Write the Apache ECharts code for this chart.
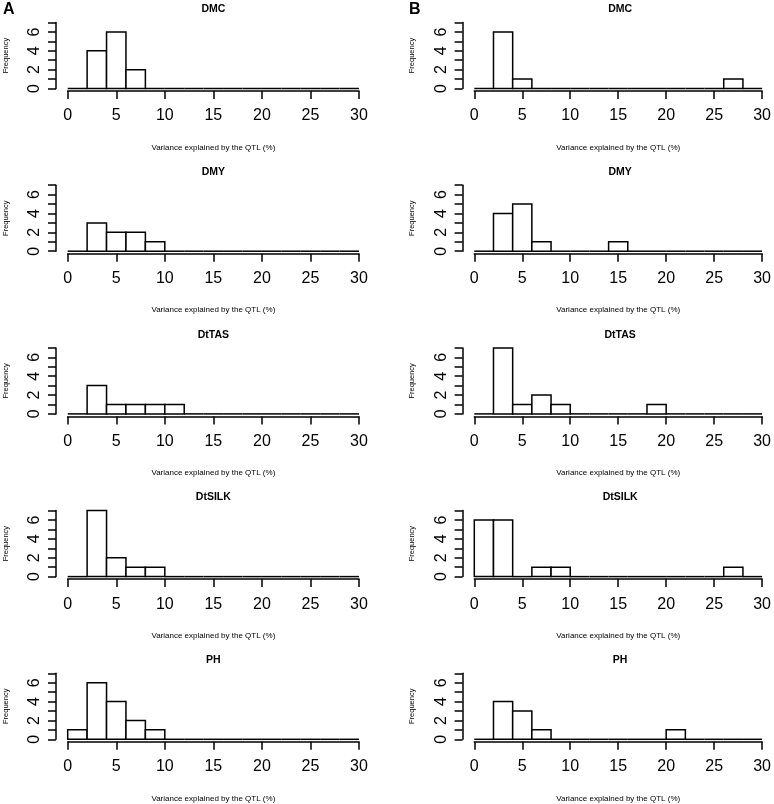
<!DOCTYPE html>
<html>
<head>
<meta charset="utf-8">
<script src="https://cdn.jsdelivr.net/npm/echarts@6/dist/echarts.min.js"></script>
<style>
html,body{margin:0;padding:0;background:#fff;}
#chart{width:774px;height:804px;}
</style>
</head>
<body>
<div id="chart"></div>
<script>
// Histogram bin breaks (width 2, from 0 to 30)
var breaks = [0,2,4,6,8,10,12,14,16,18,20,22,24,26,28,30];
var traits = ['DMC','DMY','DtTAS','DtSILK','PH'];
var xTicks = [0,5,10,15,20,25,30];
var yTicks = [0,1,2,3,4,5,6,7];
var yLabels = ['0','','2','','4','','6',''];
var xTitle = 'Variance explained by the QTL (%)';
var yTitle = 'Frequency';
var panelLetters = ['A','B'];

// Counts per bin, panel A
var A_DMC    = [0,4,6,2,0,0,0,0,0,0,0,0,0,0,0];
var A_DMY    = [0,3,2,2,1,0,0,0,0,0,0,0,0,0,0];
var A_DtTAS  = [0,3,1,1,1,1,0,0,0,0,0,0,0,0,0];
var A_DtSILK = [0,7,2,1,1,0,0,0,0,0,0,0,0,0,0];
var A_PH     = [1,6,4,2,1,0,0,0,0,0,0,0,0,0,0];
// Counts per bin, panel B
var B_DMC    = [0,6,1,0,0,0,0,0,0,0,0,0,0,1,0];
var B_DMY    = [0,4,5,1,0,0,0,1,0,0,0,0,0,0,0];
var B_DtTAS  = [0,7,1,2,1,0,0,0,0,1,0,0,0,0,0];
var B_DtSILK = [6,6,0,1,1,0,0,0,0,0,0,0,0,1,0];
var B_PH     = [0,4,3,1,0,0,0,0,0,0,1,0,0,0,0];

var panelsA = [A_DMC, A_DMY, A_DtTAS, A_DtSILK, A_PH];
var panelsB = [B_DMC, B_DMY, B_DtTAS, B_DtSILK, B_PH];

(function () {
var FONT = '"Liberation Sans", Arial, Helvetica, sans-serif';
var rowTop0 = 22.5, rowStep = 162.7, rowH = 66;
var cols = [{left: 67.7, width: 291.3}, {left: 474.3, width: 291.7}];

var grids = [], xAxes = [], yAxes = [], series = [], titles = [];

function renderHist(params, api) {
  var s = api.value(0), e = api.value(1), c = api.value(2);
  var p0 = api.coord([s, 0]);
  var p1 = api.coord([e, c]);
  if (c === 0) {
    return {type: 'line', shape: {x1: p0[0], y1: p0[1], x2: p1[0], y2: p0[1]}, style: {stroke: '#000', lineWidth: 1.5}};
  }
  return {type: 'rect', shape: {x: p0[0], y: p1[1], width: p1[0] - p0[0], height: p0[1] - p1[1]}, style: {fill: '#fff', stroke: '#000', lineWidth: 1.5}};
}
function xFmt(v) { return xTicks.indexOf(v) >= 0 ? String(v) : ''; }
function yFmt(v) { var i = yTicks.indexOf(v); return i >= 0 ? yLabels[i] : ''; }

var idx = 0;
for (var c = 0; c < 2; c++) {
  var panels = c === 0 ? panelsA : panelsB;
  for (var r = 0; r < 5; r++) {
    var gTop = rowTop0 + r * rowStep;
    grids.push({left: cols[c].left, width: cols[c].width, top: gTop, height: rowH});
    xAxes.push({
      type: 'value', gridIndex: idx, min: 0, max: 30, interval: 5, offset: 2.5,
      axisLine: {show: true, onZero: false, lineStyle: {color: '#000', width: 1.5}},
      axisTick: {show: true, length: 8, lineStyle: {color: '#000', width: 1.5}},
      axisLabel: {show: true, fontSize: 16, color: '#000', margin: 17, fontFamily: FONT, formatter: xFmt},
      splitLine: {show: false},
      name: xTitle, nameLocation: 'middle', nameGap: 52.5,
      nameTextStyle: {fontSize: 8, color: '#000', fontFamily: FONT}
    });
    yAxes.push({
      type: 'value', gridIndex: idx, min: 0, max: 7, interval: 1, offset: 11.7,
      axisLine: {show: true, onZero: false, lineStyle: {color: '#000', width: 1.5}},
      axisTick: {show: true, length: 8, lineStyle: {color: '#000', width: 1.5}},
      axisLabel: {show: true, fontSize: 16, color: '#000', margin: 13.5, rotate: 90, fontFamily: FONT, formatter: yFmt},
      splitLine: {show: false},
      name: yTitle, nameLocation: 'middle', nameGap: 46.5,
      nameTextStyle: {fontSize: 7.5, color: '#000', fontFamily: FONT}
    });
    var data = [];
    var counts = panels[r];
    for (var b = 0; b < counts.length; b++) {
      data.push([breaks[b], breaks[b + 1], counts[b]]);
    }
    series.push({
      type: 'custom', xAxisIndex: idx, yAxisIndex: idx, renderItem: renderHist,
      data: data, silent: true
    });
    titles.push({
      text: traits[r], left: cols[c].left + cols[c].width / 2, top: gTop - 18.75, textAlign: 'center', padding: 0,
      textStyle: {fontSize: 10.5, fontWeight: 'bold', color: '#000', fontFamily: FONT}
    });
    idx++;
  }
}
titles.push({text: panelLetters[0], left: 3, top: 2, padding: 0, textStyle: {fontSize: 16, fontWeight: 'bold', color: '#000', fontFamily: FONT}});
titles.push({text: panelLetters[1], left: 409, top: 2, padding: 0, textStyle: {fontSize: 16, fontWeight: 'bold', color: '#000', fontFamily: FONT}});

var chart = echarts.init(document.getElementById('chart'), null, {renderer: 'canvas'});
chart.setOption({
  animation: false,
  backgroundColor: '#fff',
  title: titles,
  grid: grids,
  xAxis: xAxes,
  yAxis: yAxes,
  series: series
});
})();
</script>
</body>
</html>
